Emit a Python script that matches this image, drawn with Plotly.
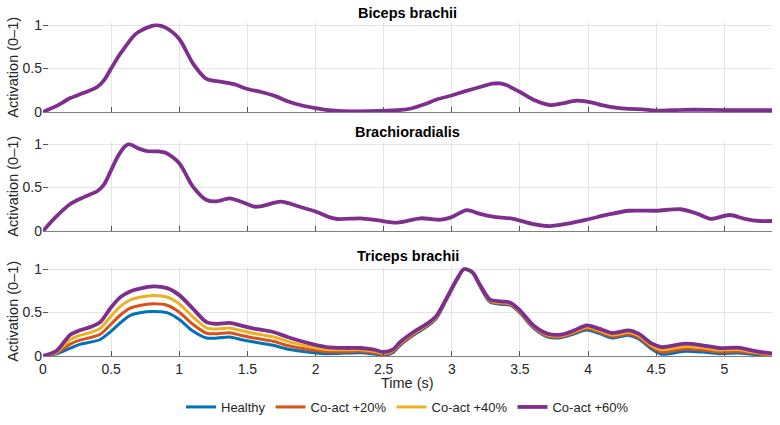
import plotly.graph_objects as go
from plotly.subplots import make_subplots

# ---------------- data ----------------
t_biceps = [0, 0.1, 0.2, 0.3, 0.4, 0.45, 0.5, 0.55, 0.6, 0.66, 0.7, 0.8, 0.835, 0.9, 1.0, 1.1, 1.2,
            1.3, 1.4, 1.5, 1.6, 1.7, 1.8, 1.9, 2.0, 2.1, 2.2, 2.4, 2.6, 2.7, 2.8, 2.9, 3.0, 3.1,
            3.2, 3.3, 3.35, 3.4, 3.5, 3.6, 3.72, 3.8, 3.92, 4.04, 4.1, 4.2, 4.3, 4.4, 4.5, 4.7,
            4.9, 5.1, 5.35]
biceps = [0, 0.07, 0.16, 0.22, 0.29, 0.37, 0.5, 0.63, 0.74, 0.865, 0.92, 0.99, 1.0, 0.97, 0.84,
          0.56, 0.38, 0.35, 0.32, 0.265, 0.23, 0.185, 0.12, 0.075, 0.045, 0.02, 0.01, 0.01, 0.02,
          0.04, 0.09, 0.15, 0.19, 0.24, 0.285, 0.325, 0.33, 0.31, 0.23, 0.14, 0.08, 0.095, 0.13,
          0.105, 0.08, 0.05, 0.035, 0.03, 0.015, 0.025, 0.025, 0.02, 0.02]

t_brachio = [0, 0.1, 0.2, 0.3, 0.4, 0.45, 0.5, 0.55, 0.6, 0.63, 0.7, 0.76, 0.85, 0.9, 1.0, 1.1,
             1.2, 1.27, 1.37, 1.45, 1.55, 1.6, 1.74, 1.8, 1.9, 2.0, 2.1, 2.16, 2.33, 2.45, 2.6,
             2.77, 2.92, 3.0, 3.11, 3.2, 3.3, 3.45, 3.6, 3.72, 3.85, 4.0, 4.15, 4.3, 4.5, 4.68,
             4.8, 4.9, 5.04, 5.15, 5.26, 5.35]
brachio = [0, 0.17, 0.31, 0.39, 0.46, 0.54, 0.70, 0.86, 0.97, 1.0, 0.95, 0.92, 0.915, 0.9, 0.78,
           0.51, 0.356, 0.34, 0.375, 0.34, 0.28, 0.285, 0.337, 0.32, 0.27, 0.225, 0.16, 0.138,
           0.146, 0.125, 0.096, 0.146, 0.13, 0.16, 0.24, 0.20, 0.165, 0.14, 0.08, 0.057, 0.085,
           0.135, 0.19, 0.233, 0.233, 0.25, 0.2, 0.14, 0.184, 0.14, 0.115, 0.115]

t_triceps = [0, 0.1, 0.2, 0.27, 0.35, 0.42, 0.5, 0.57, 0.64, 0.71, 0.81, 0.91, 1.0, 1.1, 1.2,
             1.28, 1.37, 1.45, 1.55, 1.69, 1.8, 1.94, 2.08, 2.23, 2.33, 2.43, 2.5, 2.57, 2.62,
             2.72, 2.82, 2.89, 2.96, 3.04, 3.09, 3.15, 3.21, 3.28, 3.36, 3.43, 3.5, 3.6, 3.7,
             3.8, 3.9, 3.99, 4.08, 4.18, 4.3, 4.37, 4.47, 4.54, 4.71, 4.84, 4.96, 5.1, 5.2,
             5.3, 5.35]
tri_healthy = [0, 0.025, 0.09, 0.134, 0.16, 0.19, 0.285, 0.385, 0.467, 0.498, 0.513, 0.498, 0.42,
               0.287, 0.207, 0.207, 0.218, 0.19, 0.16, 0.123, 0.077, 0.046, 0.027, 0.034, 0.038,
               0.023, 0.008, 0.04, 0.12, 0.24, 0.34, 0.44, 0.64, 0.88, 1.0, 0.96, 0.79, 0.62,
               0.595, 0.585, 0.495, 0.32, 0.22, 0.21, 0.255, 0.30, 0.26, 0.207, 0.237, 0.2,
               0.077, 0.02, 0.054, 0.045, 0.027, 0.034, 0.02, 0.008, 0.0]
tri_co20 = [0, 0.036, 0.137, 0.182, 0.213, 0.25, 0.368, 0.474, 0.55, 0.581, 0.60, 0.583, 0.504,
            0.364, 0.262, 0.256, 0.267, 0.239, 0.206, 0.169, 0.118, 0.077, 0.05, 0.051, 0.054,
            0.038, 0.019, 0.051, 0.132, 0.251, 0.35, 0.448, 0.646, 0.883, 1.0, 0.962, 0.796,
            0.629, 0.605, 0.593, 0.504, 0.329, 0.231, 0.22, 0.267, 0.316, 0.276, 0.224, 0.254,
            0.217, 0.097, 0.045, 0.08, 0.068, 0.047, 0.053, 0.034, 0.017, 0.009]
tri_co40 = [0, 0.047, 0.189, 0.237, 0.272, 0.318, 0.461, 0.574, 0.644, 0.675, 0.697, 0.678, 0.599,
            0.451, 0.324, 0.311, 0.322, 0.294, 0.259, 0.221, 0.165, 0.113, 0.076, 0.071, 0.073,
            0.055, 0.032, 0.064, 0.146, 0.263, 0.36, 0.457, 0.653, 0.886, 1.0, 0.964, 0.803,
            0.639, 0.616, 0.603, 0.514, 0.339, 0.244, 0.232, 0.281, 0.333, 0.295, 0.243, 0.274,
            0.236, 0.119, 0.073, 0.11, 0.095, 0.069, 0.074, 0.049, 0.027, 0.019]
tri_co60 = [0, 0.06, 0.245, 0.295, 0.335, 0.39, 0.56, 0.68, 0.743, 0.774, 0.80, 0.78, 0.70, 0.544,
            0.39, 0.37, 0.38, 0.352, 0.314, 0.276, 0.215, 0.15, 0.103, 0.092, 0.092, 0.073,
            0.046, 0.077, 0.16, 0.276, 0.372, 0.467, 0.66, 0.89, 1.0, 0.966, 0.81, 0.65, 0.628,
            0.613, 0.525, 0.35, 0.257, 0.245, 0.295, 0.352, 0.314, 0.264, 0.295, 0.257, 0.142,
            0.103, 0.142, 0.123, 0.092, 0.096, 0.065, 0.038, 0.03]

series_names = ["Healthy", "Co-act +20%", "Co-act +40%", "Co-act +60%"]
series_colors = ["#0072BD", "#D95319", "#EDB120", "#7E2F8E"]
series_widths = [3.0, 3.0, 3.0, 3.8]
panel_titles = ["Biceps brachii", "Brachioradialis", "Triceps brachii"]
x_ticks = [0, 0.5, 1, 1.5, 2, 2.5, 3, 3.5, 4, 4.5, 5]
y_ticks = [0, 0.5, 1]

# ---------------- figure ----------------
W, H = 780, 425
fig = make_subplots(rows=3, cols=1, shared_xaxes=False)

fig.add_trace(go.Scatter(x=t_biceps, y=biceps, mode="lines",
                         line=dict(color=series_colors[3], width=series_widths[3], shape="spline", smoothing=0.8),
                         showlegend=False, hoverinfo="skip"), row=1, col=1)
fig.add_trace(go.Scatter(x=t_brachio, y=brachio, mode="lines",
                         line=dict(color=series_colors[3], width=series_widths[3], shape="spline", smoothing=0.8),
                         showlegend=False, hoverinfo="skip"), row=2, col=1)
for name, vals, c, w in zip(series_names, [tri_healthy, tri_co20, tri_co40, tri_co60], series_colors, series_widths):
    fig.add_trace(go.Scatter(x=t_triceps, y=vals, mode="lines", name=name,
                             line=dict(color=c, width=w, shape="spline", smoothing=0.8)), row=3, col=1)

# panel pixel positions (bottom, top) -> paper coords (margins 0 vertically)
panels_px = [(112, 23.3), (231, 142.3), (356, 267.3)]
title_px = [13, 132, 256]
font_family = "Liberation Sans, Arial, sans-serif"
for i, (bot, top) in enumerate(panels_px):
    ax = "" if i == 0 else str(i + 1)
    fig.layout["yaxis" + ax].update(
        domain=[1 - bot / H, 1 - top / H], range=[0, 1.02], tickvals=y_ticks,
        ticktext=["0", "0.5", "1"], ticks="inside", ticklen=5, tickcolor="#555555",
        showline=False, showgrid=True, gridcolor="#e4e4e4", gridwidth=1, zeroline=False,
        tickfont=dict(size=14, color="#262626", family=font_family), automargin=False, fixedrange=True)
    fig.layout["xaxis" + ax].update(
        range=[0, 5.35], tickvals=x_ticks, ticktext=[f"{v:g}" for v in x_ticks],
        ticks="inside", ticklen=5, tickcolor="#555555", showline=True, linecolor="#808080",
        linewidth=1, showgrid=True, gridcolor="#e4e4e4", gridwidth=1, zeroline=False,
        showticklabels=(i == 2), tickfont=dict(size=14, color="#262626", family=font_family),
        automargin=False, fixedrange=True)
    # panel title
    fig.add_annotation(text="<b>" + panel_titles[i] + "</b>", xref="paper", yref="paper",
                       x=0.5, y=1 - title_px[i] / H, showarrow=False, xanchor="center", yanchor="middle",
                       font=dict(size=14.5, color="#000000", family=font_family))
    # y-axis title
    fig.add_annotation(text="Activation (0–1)", xref="paper", yref="paper",
                       x=(13 - 43) / 729, y=1 - ((bot + top) / 2) / H, textangle=-90, showarrow=False,
                       xanchor="center", yanchor="middle", font=dict(size=14.5, color="#262626", family=font_family))

fig.add_annotation(text="Time (s)", xref="paper", yref="paper", x=0.5, y=1 - 383 / H,
                   showarrow=False, xanchor="center", yanchor="middle",
                   font=dict(size=14.5, color="#262626", family=font_family))

fig.update_layout(
    width=W, height=H, margin=dict(l=43, r=8, t=0, b=0),
    paper_bgcolor="white", plot_bgcolor="white",
    font=dict(family=font_family, color="#262626"),
    legend=dict(orientation="h", x=0.5, xanchor="center", y=1 - 407 / H, yanchor="middle",
                font=dict(size=13, color="#262626", family=font_family), itemwidth=30,
                bgcolor="rgba(0,0,0,0)", tracegroupgap=0),
)

fig.write_html("out.html")
